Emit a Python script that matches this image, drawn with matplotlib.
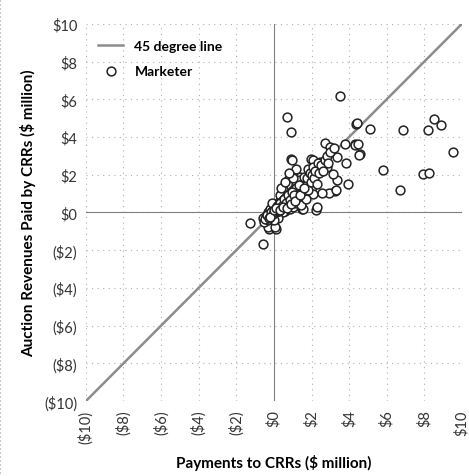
import matplotlib.pyplot as plt
import numpy as np

plt.rcParams['font.family'] = ['Lato', 'DejaVu Sans']

# payments to CRRs ($ million) vs auction revenues paid by CRRs ($ million)
marketer_x = [3.53, 0.71, 0.92, 4.36, 5.11, 6.86, 8.51, 8.88, 8.19, 9.52,
              5.82, 6.70, 7.94, 8.26, 3.85, 3.94, 4.59, 4.33, 4.30, 3.76,
              2.71, 3.37, 0.92, 3.24, 2.91, 2.54, 3.33, -1.28, -0.27, 0.11,
              -0.57, 2.23, 1.49, 2.98, 1.95, 2.09, 1.81, 2.45, 2.80, 3.16,
              3.28, 0.85, 0.94, 1.38, 1.47, 1.74, 2.00, 2.09, 2.27, 1.56,
              0.76, 0.85, -0.30, 0.05, 4.40, 4.49, 4.54,
              -0.6, -0.5, -0.4, -0.3, -0.3, -0.2, -0.2, -0.1, -0.1, 0.0,
              0.0, 0.05, 0.1, 0.1, 0.15, 0.2, 0.2, 0.25, 0.3, 0.3,
              0.35, 0.4, 0.4, 0.45, 0.5, 0.5, 0.55, 0.6, 0.6, 0.65,
              0.7, 0.7, 0.75, 0.8, 0.8, 0.85, 0.9, 0.9, 0.95, 1.0,
              1.0, 1.05, 1.1, 1.15, 1.2, 1.2, 1.3, 1.3, 1.35, 1.4,
              1.45, 1.5, 1.55, 1.6, 1.65, 1.7, 1.75, 1.8, 1.9, 1.95,
              2.0, 2.1, 2.15, 2.2, 2.3, 2.35, 2.4, 2.5, 2.6, 2.7,
              2.8, 2.9, 3.0, 3.2, 0.3, 0.5, 0.2, 0.0, 0.4, 0.6,
              -0.1, 1.0, 1.2, 0.8,
              -0.45, -0.35, -0.25, -0.15, -0.05, 0.05, 0.12, 0.18, 0.22, 0.28,
              0.33, 0.38, 0.42, 0.48, 0.52, 0.58, 0.62, 0.68, 0.72, 0.78,
              0.82, 0.88, 0.92, 0.98, 1.02, 1.08, 1.12, 1.18, 1.25, 1.32,
              0.15, 0.25, 0.35, 0.45, 0.55, 0.65, 0.75, 0.85, 0.95, 1.05,
              -0.2, 0.0, 0.1, 0.3, 0.5, 0.7, 0.9, 1.1, 1.4, 1.6]
marketer_y = [6.15, 5.04, 4.27, 4.70, 4.45, 4.38, 4.95, 4.65, 4.36, 3.23,
              2.25, 1.21, 2.04, 2.11, 2.62, 1.52, 3.09, 3.62, 3.55, 3.62,
              3.69, 2.94, 2.82, 1.13, 1.03, 1.03, 1.74, -0.57, -0.90, -0.89,
              -1.67, 0.14, 0.16, 3.47, 2.86, 2.77, 2.32, 2.68, 2.41, 2.06,
              1.17, 2.00, 2.77, 1.88, 1.61, 1.70, 1.35, 0.99, 0.28, 0.20,
              1.70, 1.35, -0.78, -0.78, 4.72, 3.65, 3.03,
              -0.3, -0.5, -0.2, -0.4, 0.0, -0.1, 0.2, -0.2, 0.1, 0.0,
              0.3, -0.1, 0.1, 0.4, 0.0, 0.2, 0.5, -0.05, 0.3, 0.6,
              0.1, 0.4, 0.8, 0.2, 0.5, 1.0, 0.3, 0.6, 0.1, 0.9,
              0.4, 0.7, 1.2, 0.5, 0.9, 0.2, 0.8, 1.4, 0.6, 1.0,
              0.3, 1.2, 0.7, 1.5, 1.1, 0.5, 1.3, 0.8, 1.7, 1.2,
              0.4, 1.5, 1.0, 1.9, 1.4, 0.7, 1.8, 1.2, 2.1, 1.6,
              2.0, 2.4, 1.8, 2.2, 1.5, 2.6, 2.1, 2.5, 2.2, 2.8,
              3.0, 2.6, 3.2, 3.4, 0.9, 0.0, -0.3, -0.4, 1.3, 1.6,
              0.5, 1.8, 2.3, 2.1,
              -0.35, -0.15, -0.3, 0.05, -0.1, 0.15, 0.0, 0.35, 0.1, 0.45,
              0.2, 0.55, 0.3, 0.65, 0.35, 0.75, 0.45, 0.85, 0.5, 0.95,
              0.6, 1.05, 0.7, 1.15, 0.8, 1.25, 0.9, 1.3, 1.0, 1.45,
              0.25, 0.1, 0.5, 0.35, 0.7, 0.5, 0.95, 0.65, 1.1, 0.9,
              -0.25, 0.15, 0.25, 0.15, 0.3, 0.25, 0.45, 0.6, 0.9, 1.3]
line_ends = [-10, 10]
ticks = np.arange(-10, 11, 2)


def money(v):
    return f'(${-v:.0f})' if v < 0 else f'${v:.0f}'


fig = plt.figure(figsize=(4.69, 4.77), dpi=100)
fig.patch.set_edgecolor('#c8c8c8')
fig.patch.set_linewidth(1)
fig.patch.set_linestyle(':')
ax = fig.add_axes([0.183, 0.157, 0.802, 0.791])

ax.plot(line_ends, line_ends, color='#8c8c8c', lw=1.8, label='45 degree line', zorder=2)
ax.scatter(marketer_x, marketer_y, s=40, facecolors='white', edgecolors='#222222',
           linewidths=1.1, label='Marketer', zorder=3)

ax.axhline(0, color='#808080', lw=0.8, zorder=1)
ax.axvline(0, color='#808080', lw=0.8, zorder=1)

ax.set_xlim(-10, 10)
ax.set_ylim(-10, 10)
ax.set_xticks(ticks)
ax.set_yticks(ticks)
ax.set_xticklabels([money(t) for t in ticks], rotation=90, fontsize=10.5, color='#333333')
ax.set_yticklabels([money(t) for t in ticks], fontsize=10.5, color='#333333')
ax.tick_params(length=0, pad=6)
for s in ax.spines.values():
    s.set_visible(False)
ax.grid(True, ls=(0, (1, 4)), color='#b0b0b0', lw=0.8)
ax.set_axisbelow(True)

ax.set_xlabel('Payments to CRRs ($ million)', fontsize=11, fontweight='bold', labelpad=8)
ax.set_ylabel('Auction Revenues Paid by CRRs ($ million)', fontsize=11, fontweight='bold', labelpad=6)

ax.legend(loc='upper left', bbox_to_anchor=(0.0, 0.99), frameon=False,
          handlelength=1.8, labelspacing=0.9, prop={'weight': 'bold', 'size': 10})

plt.savefig('out.png', dpi=100)
